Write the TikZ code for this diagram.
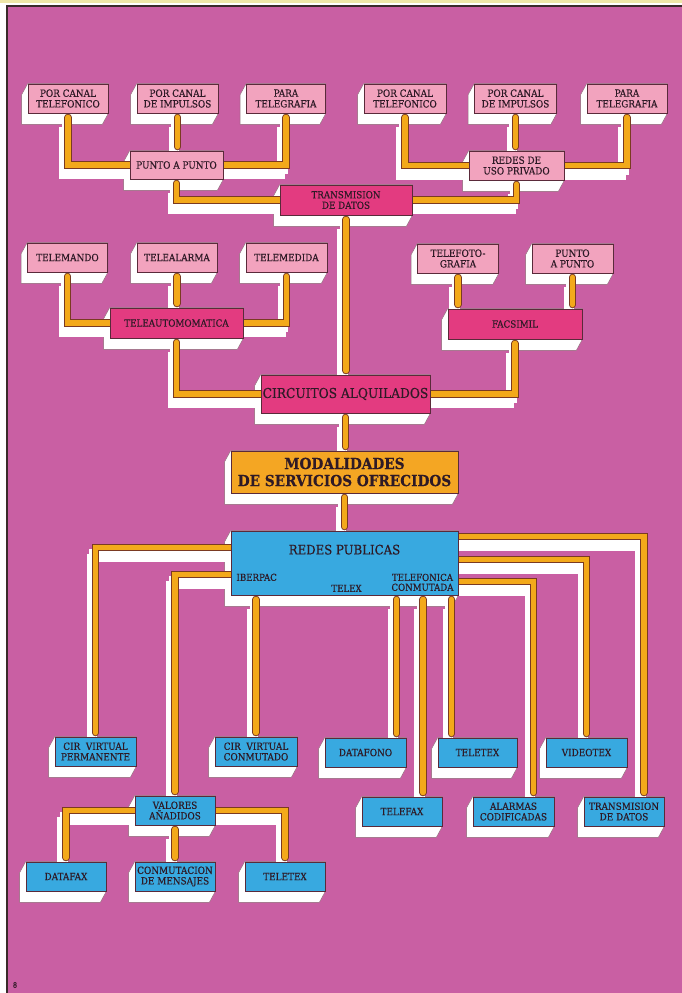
\documentclass[tikz,border=0pt]{standalone}
\usepackage{fontspec}
\setmainfont{DejaVu Serif Condensed}[FakeBold=0.35]
\usetikzlibrary{calc}

\definecolor{bgpink}{HTML}{C95FA3}
\definecolor{lpink}{HTML}{F2A3BE}
\definecolor{hpink}{HTML}{E33B80}
\definecolor{pblue}{HTML}{38A9E0}
\definecolor{morange}{HTML}{F4A623}
\definecolor{wireor}{HTML}{F3A91A}
\definecolor{wireline}{HTML}{7A3A22}
\definecolor{boxline}{HTML}{5A2A3A}
\definecolor{ink}{HTML}{2E1A26}
\definecolor{frame}{HTML}{3A2A2A}
\definecolor{topstrip}{HTML}{EEE6A8}

\pgfdeclarelayer{bg}
\pgfdeclarelayer{slab}
\pgfdeclarelayer{shade}
\pgfdeclarelayer{wire}
\pgfsetlayers{bg,slab,shade,wire,main}

\tikzset{
  box/.style={draw=boxline, line width=.5pt, inner sep=0pt, align=center,
              text=ink, font=\fontsize{7.4}{8}\selectfont},
  pinkbox/.style={box, fill=lpink},
  hotbox/.style={box, fill=hpink, font=\fontsize{7.3}{7.9}\selectfont},
  bluebox/.style={box, fill=pblue, font=\fontsize{7.4}{7.9}\selectfont},
  wh/.style 2 args={minimum width=#1*0.75pt, minimum height=#2*0.75pt},
  slabfill/.style={fill=white, draw=boxline!70, line width=.3pt},
  shadewire/.style={draw=white, line width=6pt},
  wireedge/.style={draw=wireline, line width=5.4pt, line cap=round},
  wirecore/.style={draw=wireor, line width=3.9pt, line cap=round},
  fromtip/.style={shorten <=3pt},
  totip/.style={shorten >=3pt},
  lbl/.style={text=ink, inner sep=0pt, align=center, font=\fontsize{7.2}{7.6}\selectfont},
}

\newcommand\wire[2][]{%
  \begin{pgfonlayer}{shade}
    \draw[shadewire,#1, transform canvas={shift={(-2.5,5)}}] #2;
    \draw[shadewire,#1, transform canvas={shift={(-5,10)}}] #2;
  \end{pgfonlayer}
  \begin{pgfonlayer}{wire}
    \draw[wireedge,#1] #2;
    \draw[wirecore,#1] #2;
  \end{pgfonlayer}}

\begin{document}
\begin{tikzpicture}[x=0.75pt, y=-0.75pt]
  \useasboundingbox (0,0) rectangle (682,993);
  \begin{pgfonlayer}{bg}
    \fill[white] (0,0) rectangle (682,993);
    \fill[topstrip] (0,0) rectangle (682,3);
    \fill[bgpink] (7,6) rectangle (682,993);
    \draw[frame, line width=1pt] (7,993) -- (7,6) -- (682,6);
  \end{pgfonlayer}

  % transmision de datos
  \node[pinkbox, wh={80}{29}] (pcA) at (68,98.5) {POR CANAL\\TELEFONICO};
  \node[pinkbox, wh={81}{29}] (piA) at (177.5,98.5) {POR CANAL\\DE IMPULSOS};
  \node[pinkbox, wh={79}{29}] (ptA) at (286,98.5) {PARA\\TELEGRAFIA};
  \node[pinkbox, wh={93}{28}] (pap) at (176.5,165) {PUNTO A PUNTO};
  \node[pinkbox, wh={82}{29}] (pcB) at (405,98.5) {POR CANAL\\TELEFONICO};
  \node[pinkbox, wh={82}{29}] (piB) at (515.5,98.5) {POR CANAL\\DE IMPULSOS};
  \node[pinkbox, wh={80}{29}] (ptB) at (627,98.5) {PARA\\TELEGRAFIA};
  \node[pinkbox, wh={95}{29}] (rup) at (516.5,165.5) {REDES DE\\USO PRIVADO};
  \node[hotbox, wh={132}{30}] (trans) at (346,200) {TRANSMISION\\DE DATOS};

  % teleautomatica y facsimil
  \node[pinkbox, wh={80}{29}] (tmd) at (67.5,257.5) {TELEMANDO};
  \node[pinkbox, wh={80}{29}] (tal) at (177,257.5) {TELEALARMA};
  \node[pinkbox, wh={81}{29}] (tme) at (286.5,257.5) {TELEMEDIDA};
  \node[hotbox, wh={133}{30}] (tauto) at (176.5,323) {TELEAUTOMOMATICA};
  \node[pinkbox, wh={81}{29}] (tfo) at (458,258.5) {TELEFOTO-\\GRAFIA};
  \node[pinkbox, wh={81}{29}] (pp2) at (572.5,258.5) {PUNTO\\A PUNTO};
  \node[hotbox, wh={134}{30}] (facs) at (515,324) {FACSIMIL};
  \node[hotbox, wh={169}{38}, font=\fontsize{10.2}{11}\selectfont] (circ) at (345.5,394) {CIRCUITOS ALQUILADOS};

  % centro
  \node[box, fill=morange, wh={227}{42}, font=\fontsize{11.4}{12.8}\bfseries] (mod) at (344.5,472)
       {MODALIDADES\\DE SERVICIOS OFRECIDOS};
  \node[bluebox, wh={227}{64}] (rp) at (344.5,563) {};
  \node[lbl, font=\fontsize{9.8}{11}\selectfont] (rptitle) at ($(rp.north)+(0,19)$) {REDES PUBLICAS};
  \node[lbl] (iber) at ($(rp.south west)+(26,-18)$) {IBERPAC};
  \node[lbl] (tlx) at ($(rp.south)+(2,-7)$) {TELEX};
  \node[lbl, font=\fontsize{7.2}{7.4}\selectfont] (tcon) at ($(rp.south)+(78,-13)$) {TELEFONICA\\CONMUTADA};

  % redes publicas
  \node[bluebox, wh={81}{29}] (cvp) at (95.5,751.5) {CIR\ \ VIRTUAL\\PERMANENTE};
  \node[bluebox, wh={82}{29}] (cvc) at (256,751.5) {CIR\ \ VIRTUAL\\CONMUTADO};
  \node[bluebox, wh={81}{29}] (dfo) at (365.5,752.5) {DATAFONO};
  \node[bluebox, wh={79}{29}] (ttx) at (477.5,752.5) {TELETEX};
  \node[bluebox, wh={81}{29}] (vtx) at (586.5,752.5) {VIDEOTEX};
  \node[bluebox, wh={80}{29}] (tfx) at (402,811.5) {TELEFAX};
  \node[bluebox, wh={81}{29}] (alc) at (513.5,811.5) {ALARMAS\\CODIFICADAS};
  \node[bluebox, wh={80}{29}] (tdd) at (624,811.5) {TRANSMISION\\DE DATOS};
  \node[bluebox, wh={80}{29}] (va) at (175,810.5) {VALORES\\AÑADIDOS};
  \node[bluebox, wh={80}{29}] (dfx) at (66,876.5) {DATAFAX};
  \node[bluebox, wh={80}{29}] (cmm) at (175,876.5) {CONMUTACION\\DE MENSAJES};
  \node[bluebox, wh={80}{29}] (tt2) at (285,876.5) {TELETEX};

  \node[lbl, font=\fontsize{5.5}{6}\selectfont] (pg) at (15,985) {8};

  \begin{pgfonlayer}{slab}
    \foreach \n in {pcA,piA,ptA,pap,pcB,piB,ptB,rup,trans,tmd,tal,tme,tauto,tfo,pp2,facs,circ,
                    mod,rp,cvp,cvc,dfo,ttx,vtx,tfx,alc,tdd,va,dfx,cmm,tt2}
      \filldraw[slabfill] (\n.north west) -- (\n.north east) -- (\n.south east)
        -- ($(\n.south east)+(-6,11)$) -- ($(\n.south west)+(-6,11)$)
        -- ($(\n.north west)+(-6,11)$) -- cycle;
  \end{pgfonlayer}

  % conexiones
  \wire[fromtip]{(pcA.south) |- (pap.west)}
  \wire[fromtip,totip]{(piA.south) -- (piA.south |- pap.north)}
  \wire[fromtip]{(ptA.south) |- (pap.east)}
  \wire[fromtip]{(pap.south) |- (trans.west)}
  \wire[fromtip]{(pcB.south) |- (rup.west)}
  \wire[fromtip,totip]{(piB.south) -- (piB.south |- rup.north)}
  \wire[fromtip]{(ptB.south) |- (rup.east)}
  \wire[fromtip]{(rup.south) |- (trans.east)}
  \wire[fromtip,totip]{(trans.south) -- (trans.south |- circ.north)}
  \wire[fromtip]{(tmd.south) |- (tauto.west)}
  \wire[fromtip,totip]{(tal.south) -- (tal.south |- tauto.north)}
  \wire[fromtip]{(tme.south) |- (tauto.east)}
  \wire[fromtip]{(tauto.south) |- (circ.west)}
  \wire[fromtip,totip]{(tfo.south) -- (tfo.south |- facs.north)}
  \wire[fromtip,totip]{(pp2.south) -- (pp2.south |- facs.north)}
  \wire[fromtip]{(facs.south) |- (circ.east)}
  \wire[fromtip,totip]{(circ.south) -- (circ.south |- mod.north)}
  \wire[fromtip,totip]{(mod.south) -- (mod.south |- rp.north)}

  \coordinate (dfoin) at ($(dfo.north)+(31,0)$);
  \coordinate (tfxin) at ($(tfx.north)+(21,0)$);
  \coordinate (ttxin) at ($(ttx.north)+(-26,0)$);
  \coordinate (alcin) at ($(alc.north)+(20,0)$);
  \coordinate (tddin) at ($(tdd.north)+(20,0)$);
  \wire[totip]{($(rp.north west)+(0,17)$) -| (cvp.north)}
  \wire[totip]{($(rp.north west)+(0,44)$) -| (va.north)}
  \wire[fromtip,totip]{(cvc.north |- rp.south) -- (cvc.north)}
  \wire[fromtip,totip]{(dfoin |- rp.south) -- (dfoin)}
  \wire[fromtip,totip]{(tfxin |- rp.south) -- (tfxin)}
  \wire[fromtip,totip]{(ttxin |- rp.south) -- (ttxin)}
  \wire[totip]{($(rp.north east)+(0,6)$) -| (tddin)}
  \wire[totip]{($(rp.north east)+(0,29)$) -| (vtx.north)}
  \wire[totip]{($(rp.north east)+(0,51)$) -| (alcin)}
  \wire[totip]{(va.west) -| (dfx.north)}
  \wire[fromtip,totip]{(va.south) -- (va.south |- cmm.north)}
  \wire[totip]{(va.east) -| (tt2.north)}
\end{tikzpicture}
\end{document}
